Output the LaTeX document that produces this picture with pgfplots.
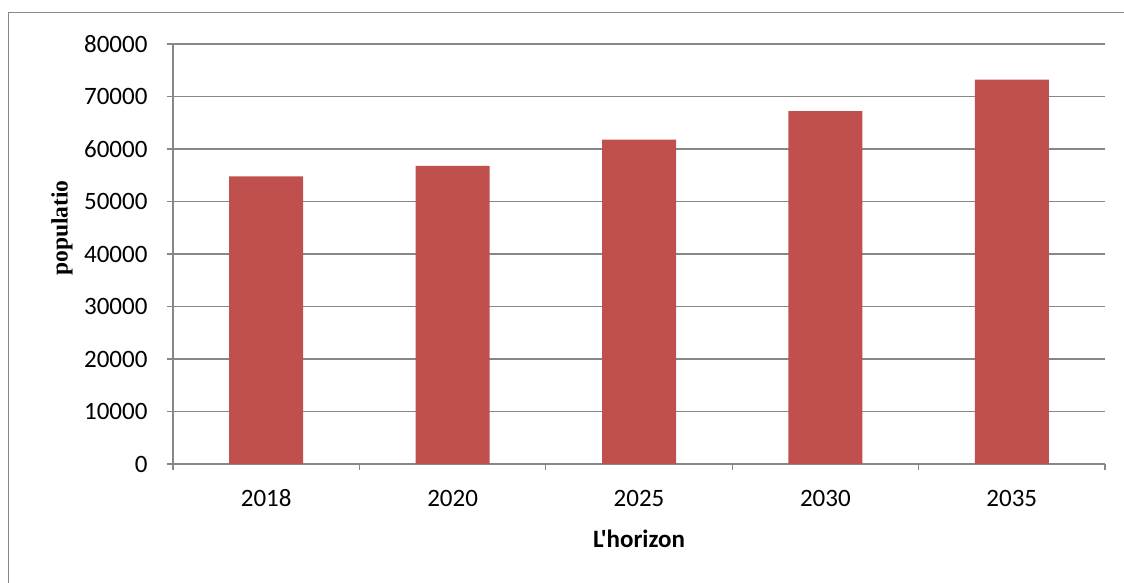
\documentclass[border=0pt]{standalone}
\usepackage{fontspec}
\setmainfont{Carlito}
\newfontfamily\xlabfont{Carlito}[Ligatures=TeXOff]
\newfontfamily\serifbold{Liberation Serif}[BoldFont={Liberation Serif Bold}]
\usepackage{pgfplots}
\pgfplotsset{compat=1.18}
\definecolor{barred}{HTML}{C0504D}
\definecolor{gridgray}{HTML}{878787}
\begin{document}
\begin{tikzpicture}[x=1pt,y=1pt]
\useasboundingbox (0,0) rectangle (1124,583);
\draw[gridgray, line width=1.5pt] (8.3,-5) -- (8.3,570.5) -- (1130,570.5);
\begin{axis}[
  at={(173pt,119pt)}, anchor=south west,
  scale only axis, width=932pt, height=420pt,
  xmin=0.5, xmax=5.5, ymin=0, ymax=80000,
  axis x line*=bottom, axis y line*=left,
  axis line style={gridgray, line width=1.5pt, -},
  ytick={0,10000,...,80000},
  scaled y ticks=false,
  /pgf/number format/assume math mode=true,
  yticklabel={\pgfmathprintnumber[fixed,set thousands separator={},precision=0]{\tick}},
  ymajorgrids, grid style={gridgray, line width=1.5pt},
  tick align=outside,
  major tick length=6pt,
  tick style={gridgray, line width=1.3pt},
  xtick={1,2,3,4,5},
  xticklabels={2018,2020,2025,2030,2035},
  major x tick style={draw=none},
  minor xtick={0.5,1.5,2.5,3.5,4.5,5.5},
  minor tick length=6pt,
  minor x tick style={gridgray, line width=1.3pt},
  tick label style={font=\fontsize{25}{29}\selectfont},
  xticklabel style={anchor=base, yshift=-37pt},
  yticklabel style={anchor=east, xshift=-16pt},
]
\addplot[ybar, bar width=74pt, fill=barred, draw=none] coordinates {
  (1,54800) (2,56800) (3,61800) (4,67200) (5,73200)
};
\end{axis}
\node[rotate=90, anchor=center, font=\serifbold\bfseries\fontsize{23.5}{26}\selectfont] at (62,355) {populatio};
\node[anchor=base, font=\xlabfont\bfseries\fontsize{25}{30}\selectfont] at (639,35) {L'horizon};
\end{tikzpicture}
\end{document}
